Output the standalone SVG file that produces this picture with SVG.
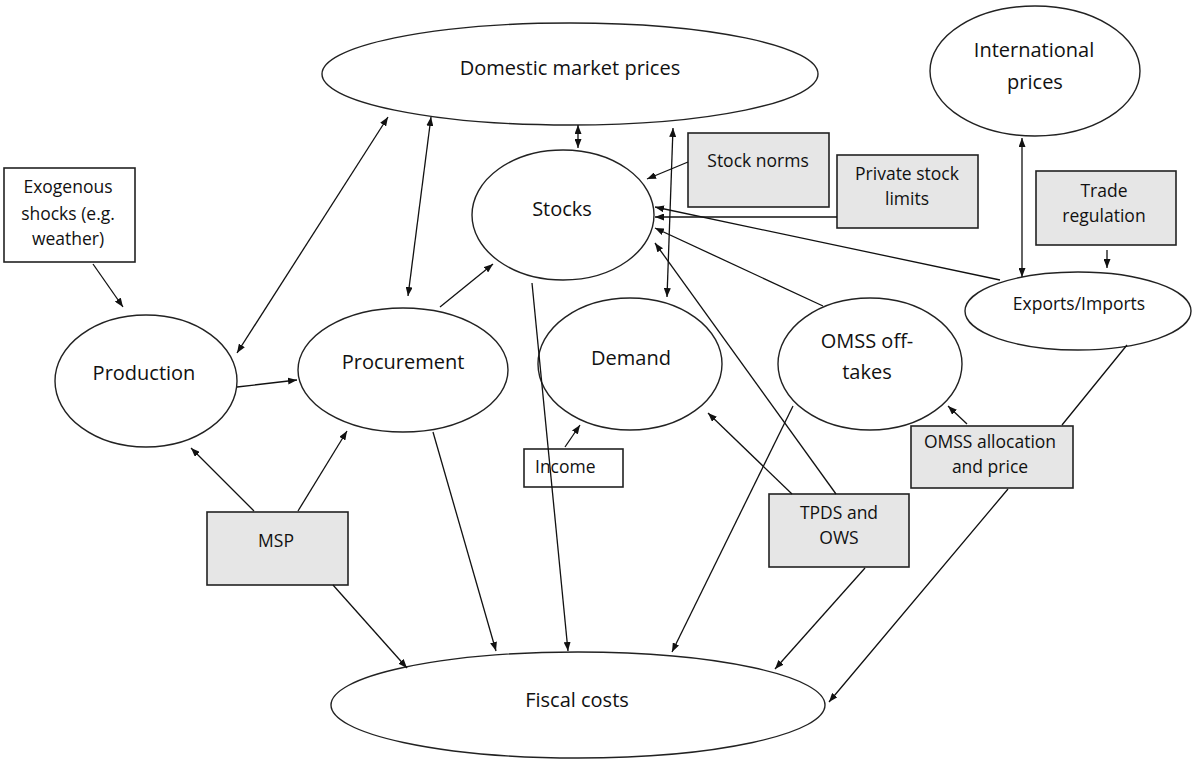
<svg xmlns="http://www.w3.org/2000/svg" width="1193" height="760" viewBox="0 0 1193 760">
<defs>
<marker id="ah" viewBox="0 0 9 7" refX="9" refY="3.5" markerWidth="9" markerHeight="7" markerUnits="userSpaceOnUse" orient="auto-start-reverse">
<path d="M0,0 L9,3.5 L0,7 z" fill="#111"/>
</marker>
<style>
.e{fill:#fff;stroke:#222;stroke-width:1.4}
.b{fill:#e6e6e6;stroke:#222;stroke-width:1.6}
.w{fill:none;stroke:#222;stroke-width:1.6}
.c line,.c path{fill:none;stroke:#111;stroke-width:1.3;marker-end:url(#ah)}
.c line.d{marker-start:url(#ah)}
text{font-family:"Open Sans","Noto Sans","Liberation Sans",sans-serif;fill:#111;text-anchor:middle}
.L{font-size:20px}
.S{font-size:17.5px}
</style>
</defs>
<rect width="1193" height="760" fill="#fff"/>

<g id="nodes-ellipses">
<g id="domestic"><ellipse class="e" cx="570" cy="74" rx="248" ry="51"/><text class="L" x="570" y="75">Domestic market prices</text></g>
<g id="international"><ellipse class="e" cx="1035" cy="71" rx="105" ry="65"/><text class="L" x="1034" y="57">International</text><text class="L" x="1035" y="89">prices</text></g>
<g id="stocks"><ellipse class="e" cx="563" cy="215" rx="91" ry="65"/><text class="L" x="562" y="216">Stocks</text></g>
<g id="exports"><ellipse class="e" cx="1078" cy="311" rx="113" ry="39"/><text class="S" x="1079" y="310">Exports/Imports</text></g>
<g id="production"><ellipse class="e" cx="146" cy="381" rx="91" ry="66"/><text class="L" x="144" y="380">Production</text></g>
<g id="procurement"><ellipse class="e" cx="403" cy="370" rx="105" ry="62"/><text class="L" x="403" y="369">Procurement</text></g>
<g id="demand"><ellipse class="e" cx="630" cy="364" rx="92" ry="66"/><text class="L" x="631" y="365">Demand</text></g>
<g id="omss-offtakes"><ellipse class="e" cx="870" cy="364" rx="92" ry="66"/><text class="L" x="867" y="348">OMSS off-</text><text class="L" x="867" y="379">takes</text></g>
<g id="fiscal"><ellipse class="e" cx="578" cy="705" rx="247" ry="53"/><text class="L" x="577" y="707">Fiscal costs</text></g>
</g>

<g id="nodes-boxes">
<g id="exogenous"><rect x="4" y="168" width="131" height="94" fill="#fff" stroke="#222" stroke-width="1.6"/><text class="S" x="68" y="193">Exogenous</text><text class="S" x="68" y="220">shocks (e.g.</text><text class="S" x="68" y="245">weather)</text></g>
<g id="stock-norms"><rect class="b" x="688" y="133" width="141" height="74"/><text class="S" x="758" y="167">Stock norms</text></g>
<g id="private-stock"><rect class="b" x="837" y="155" width="141" height="73"/><text class="S" x="907" y="180">Private stock</text><text class="S" x="907" y="205">limits</text></g>
<g id="trade"><rect class="b" x="1036" y="171" width="140" height="74"/><text class="S" x="1104" y="197">Trade</text><text class="S" x="1104" y="222">regulation</text></g>
<g id="income"><rect class="w" x="524" y="449" width="99" height="38"/><text class="S" x="535" y="473" style="text-anchor:start">Income</text></g>
<g id="tpds"><rect class="b" x="769" y="494" width="140" height="73"/><text class="S" x="839" y="519">TPDS and</text><text class="S" x="839" y="544">OWS</text></g>
<g id="omss-alloc"><rect class="b" x="911" y="426" width="162" height="62"/><text class="S" x="990" y="448">OMSS allocation</text><text class="S" x="990" y="473">and price</text></g>
<g id="msp"><rect class="b" x="207" y="512" width="141" height="73"/><text class="S" x="276" y="547">MSP</text></g>
</g>

<g id="connectors" class="c">
<line x1="93" y1="264" x2="123" y2="307"/>
<line x1="237" y1="387" x2="297" y2="380"/>
<line class="d" x1="388" y1="117" x2="237" y2="353"/>
<line class="d" x1="431" y1="117" x2="408" y2="296"/>
<line x1="440" y1="307" x2="493" y2="264"/>
<line class="d" x1="578" y1="125" x2="578" y2="148"/>
<line class="d" x1="673" y1="128" x2="667" y2="297"/>
<line x1="688" y1="162" x2="647" y2="179"/>
<line x1="837" y1="217" x2="655" y2="217"/>
<line x1="1000" y1="280" x2="655" y2="207"/>
<line x1="823" y1="306" x2="655" y2="228"/>
<line x1="836" y1="494" x2="655" y2="243"/>
<line class="d" x1="1022" y1="138" x2="1022" y2="277"/>
<line x1="1107" y1="250" x2="1107" y2="268"/>
<line x1="565" y1="447" x2="580" y2="425"/>
<line x1="792" y1="494" x2="708" y2="413"/>
<line x1="967" y1="424" x2="948" y2="406"/>
<line x1="254" y1="511" x2="191" y2="448"/>
<line x1="298" y1="511" x2="347" y2="431"/>
<line x1="333" y1="585" x2="407" y2="668"/>
<line x1="433" y1="432" x2="496" y2="651"/>
<line x1="532" y1="283" x2="568" y2="651"/>
<line x1="793" y1="406" x2="672" y2="652"/>
<line x1="865" y1="568" x2="775" y2="669"/>
<path d="M1127,345 L1062,425 M1008,489 L829,702"/>
</g>
</svg>
